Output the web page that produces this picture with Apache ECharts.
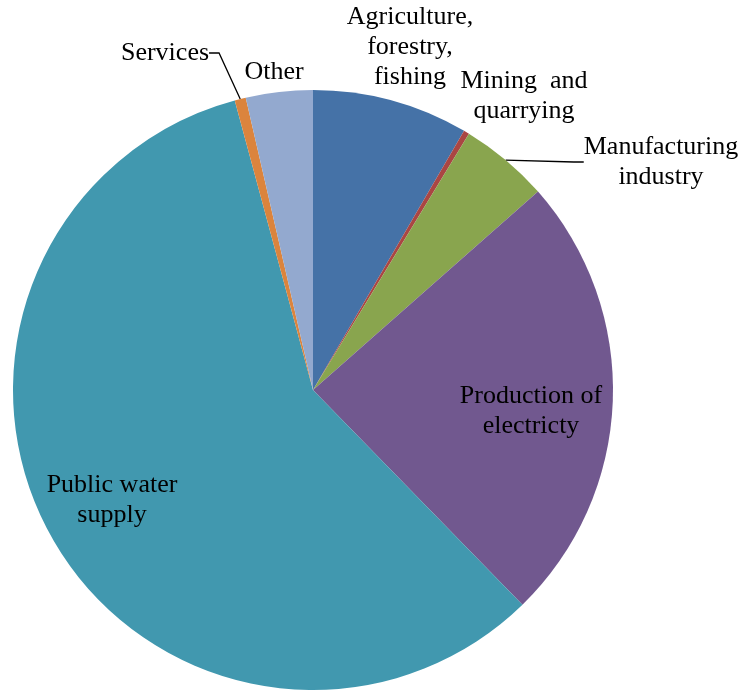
<!DOCTYPE html>
<html>
<head>
<meta charset="utf-8">
<title>Water use by sector</title>
<script src="https://cdn.jsdelivr.net/npm/echarts@6/dist/echarts.min.js"></script>
<style>
  html, body { margin: 0; padding: 0; background: #fff; }
  #main { width: 743px; height: 692px; }
</style>
</head>
<body>
<div id="main"></div>
<script>
  // sectors, clockwise from 12 o'clock
  var sectors = ['Agriculture,\nforestry,\nfishing', 'Mining  and\nquarrying', 'Manufacturing\nindustry',
    'Production of\nelectricty', 'Public water\nsupply', 'Services', 'Other'];
  var shares = [8.4, 0.3, 4.8, 24.2, 58.1, 0.6, 3.6];
  var colors = ['#4572A7', '#AA4643', '#89A54E', '#71588F', '#4198AF', '#DB843D', '#93A9CF'];

  // label centres (px) and which ones get a leader line
  var labelPos = [[410, 47], [524, 96], [661, 162], [531, 411], [112, 500], [165, 53], [274, 72]];
  var withLine = [false, false, true, false, false, true, false];

  var chart = echarts.init(document.getElementById('main'));
  var data = sectors.map(function (name, i) {
    return {
      name: name,
      value: shares[i],
      itemStyle: {color: colors[i]},
      labelLine: {show: withLine[i]}
    };
  });

  chart.setOption({
    animation: false,
    series: [{
      type: 'pie',
      center: [313, 390],
      radius: 300,
      startAngle: 90,
      clockwise: true,
      avoidLabelOverlap: false,
      itemStyle: {borderWidth: 0},
      emphasis: {disabled: true},
      label: {
        show: true,
        position: 'outside',
        formatter: '{b}',
        color: '#000',
        fontFamily: '"Liberation Serif", "Times New Roman", serif',
        fontSize: 26,
        lineHeight: 30,
        align: 'center'
      },
      labelLine: {
        lineStyle: {color: '#000', width: 1.3},
        length: 10,
        length2: 10
      },
      labelLayout: function (params) {
        var p = labelPos[params.dataIndex];
        return {
          x: p[0],
          y: p[1],
          align: 'center',
          verticalAlign: 'middle'
        };
      },
      data: data
    }]
  });
</script>
</body>
</html>
